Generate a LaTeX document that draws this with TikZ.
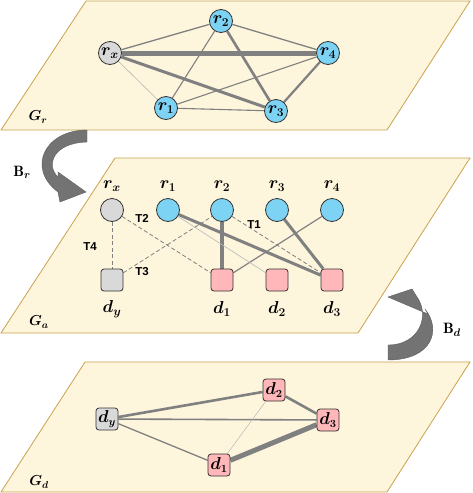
\documentclass[tikz,border=0pt]{standalone}
\usepackage{amsmath,bm}
\usepackage{fontspec}
\newfontfamily\tfont{Liberation Sans}
\usetikzlibrary{arrows.meta}
\pgfdeclarelayer{planes}
\pgfdeclarelayer{edges}
\pgfsetlayers{planes,edges,main}
\definecolor{planefill}{HTML}{FDF5DC}
\definecolor{planeedge}{HTML}{C9A24E}
\definecolor{rblue}{HTML}{7DD3F3}
\definecolor{ngray}{HTML}{D9D9D9}
\definecolor{dpink}{HTML}{FFB7B9}
\definecolor{egray}{HTML}{808080}
\definecolor{elight}{HTML}{B8B8B8}
\definecolor{agray}{HTML}{737373}
\tikzset{
  plane/.style={fill=planefill, draw=planeedge, line width=0.8pt},
  rnode/.style={circle, minimum size=23pt, inner sep=0pt, fill=rblue, draw=black!80, line width=0.8pt, font=\fontsize{17}{19}\selectfont},
  xnode/.style={rnode, fill=ngray},
  dnode/.style={rectangle, rounded corners=3pt, minimum size=22pt, inner sep=0pt, fill=dpink, draw=black!80, line width=0.8pt, font=\fontsize{16}{18}\selectfont},
  ynode/.style={dnode, fill=ngray},
  lab/.style={font=\fontsize{17}{19}\selectfont, inner sep=0pt},
  tlab/.style={font=\tfont\bfseries\fontsize{11.5}{13}\selectfont, inner sep=0pt},
  glab/.style={font=\fontsize{14.5}{16}\selectfont, inner sep=0pt},
  blab/.style={font=\fontsize{15}{17}\selectfont, inner sep=0pt},
  e/.style={draw=egray, line width=#1},
  e/.default=1.1pt,
  el/.style={draw=elight, line width=0.6pt},
  ed/.style={draw=egray, dashed, dash pattern=on 4pt off 2.5pt, line width=0.8pt},
  bigarrow/.style={fill=agray, draw=agray!80!black, line width=0.4pt},
}
\begin{document}
\begin{tikzpicture}[x=1pt,y=-1pt]
\useasboundingbox (0,0) rectangle (472,493);
% ---------- planes
\begin{pgfonlayer}{planes}
\path[plane] (86,1) -- (470,1) -- (387,130) -- (1,130) -- cycle;
\path[plane] (115,158) -- (470,158) -- (358,333) -- (1,333) -- cycle;
\path[plane] (85,362) -- (470,362) -- (387,492) -- (1,492) -- cycle;
\end{pgfonlayer}
% ---------- top plane G_r
\node[glab] (Gr) at (38,117) {$\bm{G_r}$};
\node[rnode] (r2) at (221,21) {$\bm{r_2}$};
\node[xnode] (rx) at (110,53) {$\bm{r_x}$};
\node[rnode] (r4) at (328,53) {$\bm{r_4}$};
\node[rnode] (r1) at (166,108) {$\bm{r_1}$};
\node[rnode] (r3) at (276,111) {$\bm{r_3}$};
\begin{pgfonlayer}{edges}
\draw[e=5pt] (rx) -- (r4);
\draw[e=3pt] (rx) -- (r3);
\draw[e=2.6pt] (r2) -- (r3);
\draw[e=2.2pt] (r3) -- (r4);
\draw[e=1.3pt] (rx) -- (r2);
\draw[e=1.3pt] (r2) -- (r4);
\draw[e=1.1pt] (r2) -- (r1);
\draw[e=1.1pt] (r1) -- (r4);
\draw[e=1.1pt] (r1) -- (r3);
\draw[el] (rx) -- (r1);
\end{pgfonlayer}
% ---------- middle plane G_a
\node[glab] (Ga) at (39,322) {$\bm{G_a}$};
\node[xnode] (arx) at (112,210) {};
\node[rnode] (ar1) at (168,210) {};
\node[rnode] (ar2) at (222,210) {};
\node[rnode] (ar3) at (277,210) {};
\node[rnode] (ar4) at (332,210) {};
\node[lab] (lrx) at (112,186) {$\bm{r_x}$};
\node[lab] (lr1) at (168,186) {$\bm{r_1}$};
\node[lab] (lr2) at (222,186) {$\bm{r_2}$};
\node[lab] (lr3) at (277,186) {$\bm{r_3}$};
\node[lab] (lr4) at (332,186) {$\bm{r_4}$};
\node[ynode] (ady) at (112,280) {};
\node[dnode] (ad1) at (222,280) {};
\node[dnode] (ad2) at (277,280) {};
\node[dnode] (ad3) at (332,280) {};
\node[lab] (ldy) at (112,309) {$\bm{d_y}$};
\node[lab] (ld1) at (222,309) {$\bm{d_1}$};
\node[lab] (ld2) at (277,309) {$\bm{d_2}$};
\node[lab] (ld3) at (332,309) {$\bm{d_3}$};
\node[tlab] (T1) at (254,225) {T1};
\node[tlab] (T2) at (142,218) {T2};
\node[tlab] (T3) at (142,272) {T3};
\node[tlab] (T4) at (90,247) {T4};
\begin{pgfonlayer}{edges}
\draw[e=4pt] (ar2) -- (ad1);
\draw[e=3pt] (ar1) -- (ad3);
\draw[e=3pt] (ar3) -- (ad3);
\draw[e=1.2pt] (ar4) -- (ad1);
\draw[el] (ar1) -- (ad2);
\draw[ed] (arx) -- (ady);
\draw[ed] (arx) -- (ad1);
\draw[ed] (ady) -- (ar2);
\draw[ed] (ar2) -- (ad3);
\end{pgfonlayer}
% ---------- bottom plane G_d
\node[glab] (Gd) at (39,482) {$\bm{G_d}$};
\node[dnode] (d2) at (274,390) {$\bm{d_2}$};
\node[ynode] (dy) at (107,419) {$\bm{d_y}$};
\node[dnode] (d3) at (328,420) {$\bm{d_3}$};
\node[dnode] (d1) at (219,465) {$\bm{d_1}$};
\begin{pgfonlayer}{edges}
\draw[e=5pt] (d1) -- (d3);
\draw[e=2.6pt] (dy) -- (d2);
\draw[e=2.6pt] (d2) -- (d3);
\draw[e=1.6pt] (dy) -- (d3);
\draw[e=1.3pt] (dy) -- (d1);
\draw[el, line width=0.5pt] (d2) -- (d1);
\end{pgfonlayer}
% ---------- curved block arrows between planes
\path[bigarrow] (87,130) .. controls (45,130) and (26,168) .. (58,192)
  -- (60,202) -- (86,192) -- (58,172) -- (58,177)
  .. controls (46,166) and (52,143) .. (87,142) -- cycle;
\node[blab] (Br) at (22,172) {$\mathbf{B}_{\bm{r}}$};
\path[bigarrow] (388,360) .. controls (432,360) and (442,330) .. (425,309)
  -- (428,314) -- (388,297) -- (412,289) -- (417,297)
  .. controls (430,315) and (420,345) .. (388,345) -- cycle;
\node[blab] (Bd) at (452,330) {$\mathbf{B}_{\bm{d}}$};
\end{tikzpicture}
\end{document}
